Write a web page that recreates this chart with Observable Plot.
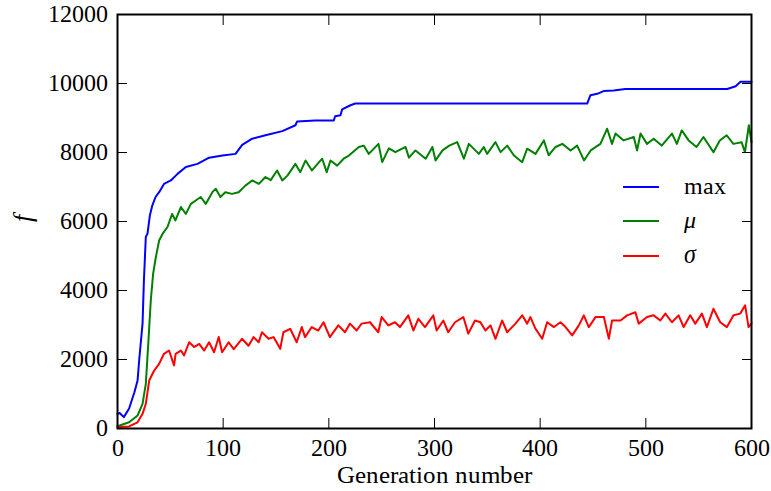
<!DOCTYPE html>
<html>
<head>
<meta charset="utf-8">
<script src="https://cdn.jsdelivr.net/npm/d3@7"></script>
<script src="https://cdn.jsdelivr.net/npm/@observablehq/plot@0.6"></script>
<style>
  @font-face { font-family: "SerifChart"; font-style: normal; src: local("Liberation Serif"), local("LiberationSerif"), local("LiberationSerif-Regular"); }
  @font-face { font-family: "SerifChart"; font-style: italic; src: local("Liberation Serif Italic"), local("LiberationSerif-Italic"); }
  html, body { margin: 0; padding: 0; background: white; }
  body, #wrap, #wrap svg, #wrap text, .leg-text { font-family: "SerifChart", "Liberation Serif", serif; }
  #wrap { position: relative; width: 771px; height: 491px; }
  .leg-line { position: absolute; left: 623px; width: 36px; height: 2px; }
  .leg-text { position: absolute; left: 684px; font-size: 24px; line-height: 28px; color: black; }
</style>
</head>
<body>
<div id="wrap">
  <div class="leg-line" style="top:186px;background:#0000ff"></div>
  <div class="leg-text" style="top:172px">max</div>
  <div class="leg-line" style="top:220px;background:#008000"></div>
  <div class="leg-text" style="top:206px;font-style:italic">μ</div>
  <div class="leg-line" style="top:255px;background:#ff0000"></div>
  <div class="leg-text" style="top:241px;font-style:italic">σ</div>
</div>
<script>
// ---- data ----
const xTicks = [0, 100, 200, 300, 400, 500, 600];
const yTicks = [0, 2000, 4000, 6000, 8000, 10000, 12000];
const seriesColors = ["#0000ff", "#008000", "#ff0000"];

const maxPoints = [[0,420],[2,450],[6,330],[11,580],[16,1050],[19,1390],[20.5,1970],[23.7,3040],[25,4290],[26.8,5550],[28.4,5650],[30.6,6170],[33,6470],[36,6710],[39.4,6850],[44,7090],[50.5,7190],[56.8,7380],[64.7,7580],[75.7,7670],[86.7,7850],[99.4,7910],[111.7,7960],[118,8220],[127.5,8400],[140,8500],[156,8620],[168.4,8790],[170,8900],[187,8930],[204.7,8930],[206,9050],[211,9080],[212.6,9250],[220.5,9370],[225,9420],[444.5,9420],[447.6,9660],[454,9700],[460,9780],[469.5,9800],[480.7,9840],[577,9840],[585,9920],[589.6,10050],[600,10050]];

const muPoints = [[0,80],[2,87],[11,180],[19,377],[23.7,716],[26.8,1296],[29.3,2550],[31.5,3710],[33.7,4480],[36.3,4970],[39.4,5450],[42.6,5640],[47.3,5840],[51.7,6220],[54.8,6030],[60,6420],[64.7,6220],[69.5,6510],[74,6610],[78.8,6710],[83.5,6510],[89.8,6850],[93,6950],[97.4,6710],[102,6850],[108.3,6800],[114.6,6850],[121,7040],[127.5,7190],[133.8,7090],[140,7290],[145,7200],[151,7480],[156,7190],[160.8,7330],[168.4,7670],[173,7430],[178,7770],[184,7480],[193.7,7820],[198,7430],[201.6,7770],[207.9,7620],[214,7820],[219,7910],[228.4,8160],[233,8200],[237.8,7960],[247,8250],[250.5,7720],[256.8,8120],[263,8010],[272.6,8160],[275.8,7850],[282,8060],[291.7,7820],[298,8160],[301,7770],[307.6,8060],[314,8200],[321.5,8300],[327.8,7820],[332.5,8250],[342,7960],[346.6,8160],[349.8,7960],[357.7,8300],[362.5,8010],[368.8,8200],[375,7920],[383,7720],[387.7,8110],[395.6,7960],[403.5,8350],[408,7920],[414.6,8160],[421,8250],[428.8,8060],[435,8200],[441.5,7770],[447.8,8060],[457,8250],[463.4,8690],[468,8250],[471.3,8550],[479,8350],[488.6,8450],[491.7,8060],[495,8550],[501.1,8250],[507.4,8400],[515,8200],[524.7,8550],[529.4,8250],[534,8640],[540.5,8350],[548,8160],[554.5,8450],[564,8010],[570,8350],[576.5,8500],[582.8,8250],[590.6,8300],[593.8,8010],[597.5,8790],[600,8300]];

const sigmaPoints = [[0,40],[11,60],[19,180],[23.7,425],[26.8,716],[30,1390],[34.7,1680],[39.4,1875],[44,2165],[48.8,2260],[53.5,1830],[55,2165],[60,2260],[63,2120],[67.8,2500],[72.5,2360],[77.3,2450],[82,2260],[86.7,2500],[91.4,2210],[95.8,2650],[99,2210],[105.2,2500],[110,2300],[117.8,2600],[124,2400],[128.8,2650],[133.6,2500],[136.7,2790],[143,2600],[147.7,2650],[154,2310],[157,2790],[163.4,2890],[169.6,2500],[174.4,2940],[177.5,2650],[183.8,2940],[190,2840],[195,3080],[201,2650],[209,2990],[215.3,2790],[220,3040],[226.3,2840],[231,3040],[239,3080],[246.8,2790],[250,3230],[256.3,2990],[262.6,3080],[267.3,2940],[275.2,3280],[280,2840],[284.7,3180],[291,2940],[298.9,3280],[302,2840],[308.4,3130],[313,2790],[319.4,3080],[327.3,3230],[332,2750],[338.3,3130],[343.5,3080],[348.2,2840],[353,2990],[357.7,2600],[364,3130],[368.8,2790],[376.6,3040],[383,3280],[387.7,3040],[390.8,3230],[395.6,2890],[401.9,2600],[406.6,3080],[413,2940],[419.2,3080],[424,2940],[430.3,2700],[436.6,2990],[441.3,3280],[446,2940],[452.4,3230],[460.3,3230],[465,2600],[468,3130],[476,3130],[482.3,3280],[490.1,3370],[493.3,3040],[501.1,3230],[507.4,3280],[513.7,3130],[518.5,3330],[524.7,3080],[531,3280],[535.8,2940],[542,3280],[546.8,3040],[553.1,3330],[557.8,2940],[564,3470],[570.4,3080],[576.7,2940],[583,3280],[589.3,3330],[594,3570],[597.2,2940],[600,3050]];

const xLabel = "Generation number";
const yLabel = "f";

// ---- chart ----
const FONT = "SerifChart, Liberation Serif, serif";
const allSeries = [maxPoints, muPoints, sigmaPoints];

const lineMarks = allSeries.map((pts, i) =>
  Plot.line(pts, {x: d => d[0], y: d => d[1], stroke: seriesColors[i], strokeWidth: 2})
);

const chart = Plot.plot({
  width: 771,
  height: 491,
  marginLeft: 117,
  marginRight: 20,
  marginTop: 14,
  marginBottom: 63,
  style: {fontSize: "24px", fontFamily: FONT},
  x: {domain: [0, 600]},
  y: {domain: [0, 12000]},
  marks: [
    ...lineMarks,
    Plot.axisX(xTicks, {anchor: "bottom", tickSize: -10, tickPadding: 20, tickFormat: d => String(d), label: null, strokeWidth: 1, fontSize: 24}),
    Plot.axisX(xTicks, {anchor: "top", tickSize: -10, tickFormat: () => "", label: null, strokeWidth: 1}),
    Plot.axisY(yTicks, {anchor: "left", tickSize: -10, tickPadding: 20, tickFormat: d => String(d), label: null, strokeWidth: 1, fontSize: 24}),
    Plot.axisY(yTicks, {anchor: "right", tickSize: -10, tickFormat: () => "", label: null, strokeWidth: 1}),
    Plot.text([xLabel], {frameAnchor: "bottom", dy: 46, lineAnchor: "middle", text: d => d, fontSize: 25}),
    Plot.text([yLabel], {frameAnchor: "left", dx: -95, rotate: -90, lineAnchor: "middle", text: d => d, fontStyle: "italic", fontSize: 26}),
    Plot.frame({stroke: "black", strokeWidth: 2})
  ]
});

const wrap = document.getElementById("wrap");
wrap.insertBefore(chart, wrap.firstChild);
</script>
</body>
</html>
